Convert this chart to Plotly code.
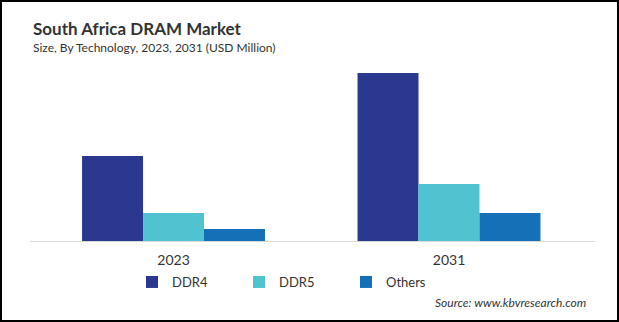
import plotly.graph_objects as go

years = ["2023", "2031"]
ddr4 = [85, 168]
ddr5 = [28, 57]
others = [12, 28]
series_names = ["DDR4", "DDR5", "Others"]
colors = ["#2B388F", "#4FC3CF", "#1570B8"]

W, H = 619, 322
L, R, T, B = 30, 24, 60, 81
pw, ph = W - L - R, H - T - B

fig = go.Figure()
for name, vals, col in zip(series_names, [ddr4, ddr5, others], colors):
    fig.add_trace(go.Bar(x=years, y=vals, name=name, marker=dict(color=col, line=dict(width=0))))

FONT = "Lato"
fig.update_layout(
    width=W, height=H,
    margin=dict(l=L, r=R, t=T, b=B),
    paper_bgcolor="white", plot_bgcolor="white",
    barmode="group", bargap=0.336, bargroupgap=0,
    font=dict(family=FONT, color="#333333"),
    showlegend=True,
    legend=dict(orientation="h", x=(132 - L) / pw, xanchor="left", y=(241 - 282) / ph, yanchor="middle",
                font=dict(size=13, color="#333333"), entrywidth=62, entrywidthmode="pixels",
                itemwidth=30, traceorder="normal"),
    xaxis=dict(type="category", range=[-0.521, 1.530], showline=True, linecolor="#D9D9D9", linewidth=1,
               ticks="", tickfont=dict(size=14, color="#333333"), ticklabelstandoff=6, showgrid=False),
    yaxis=dict(range=[0, ph], visible=False, showgrid=False, zeroline=False),
    shapes=[dict(type="rect", xref="paper", yref="paper",
                 x0=-(L - 1) / pw, x1=1 + (R - 1) / pw, y0=-(B - 1) / ph, y1=1 + (T - 1) / ph,
                 line=dict(color="black", width=2), fillcolor="rgba(0,0,0,0)")],
    annotations=[
        dict(text="<b>South Africa DRAM Market</b>", xref="paper", yref="paper",
             x=(31 - L) / pw, y=1 + (T - 28) / ph, xanchor="left", yanchor="middle",
             showarrow=False, font=dict(size=17, color="#333333", family=FONT)),
        dict(text="Size, By Technology, 2023, 2031 (USD Million)", xref="paper", yref="paper",
             x=(31 - L) / pw, y=1 + (T - 47) / ph, xanchor="left", yanchor="middle",
             showarrow=False, font=dict(size=12, color="#333333", family=FONT)),
        dict(text="<i>Source: www.kbvresearch.com</i>", xref="paper", yref="paper",
             x=(588 - L) / pw, y=(241 - 302) / ph, xanchor="right", yanchor="middle",
             showarrow=False, font=dict(size=12, color="#333333", family=FONT)),
    ],
)
fig.write_html("out.html")
